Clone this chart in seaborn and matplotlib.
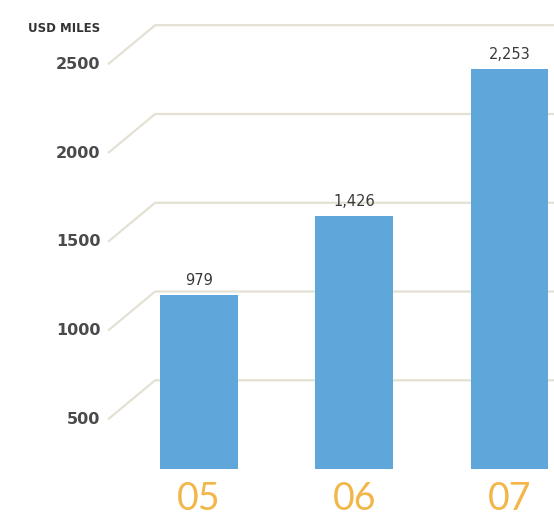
import matplotlib
matplotlib.use('Agg')
import matplotlib.pyplot as plt
import matplotlib.transforms as mtransforms
import seaborn as sns
import pandas as pd

# data
years = ["05", "06", "07"]
values = [979, 1426, 2253]
value_labels = ["979", "1,426", "2,253"]
ticks = [500, 1000, 1500, 2000, 2500]
unit_label = "USD MILES"

bar_color = "#5fa6db"
year_color = "#f2b649"
grid_color = "#e4e1d4"
text_color = "#3a3a3a"

sns.set_style("white")
plt.rcParams['font.family'] = ['DejaVu Sans']

df = pd.DataFrame({"year": years, "value": values})

fig = plt.figure(figsize=(5.54, 5.17), dpi=100)
ax = fig.add_axes([0, 0, 1, 1])

# back wall grid: diagonal from the label to the wall, then flat to the right
blend = mtransforms.blended_transform_factory(ax.transAxes, ax.transData)
depth = 220  # front labels sit this far below the wall line
for t in ticks:
    ax.plot([0.195, 0.28, 1.0], [t - depth, t, t], color=grid_color, lw=1.6,
            transform=blend, zorder=0, solid_capstyle='butt')
    ax.text(0.181, t - depth, str(t), transform=blend, ha='right', va='center',
            fontsize=11.5, fontweight='bold', color='#4a4a4a')

ax.text(0.181, 2642 - 28 / 0.1775, unit_label, transform=blend, ha='right',
        va='center', fontsize=8.5, fontweight='bold', color='#333333')

sns.barplot(data=df, x="year", y="value", color=bar_color, width=0.5,
            saturation=1, linewidth=0, ax=ax, zorder=2)

for i, (v, lab) in enumerate(zip(values, value_labels)):
    ax.annotate(lab, (i, v), xytext=(0, 5), textcoords='offset points',
                ha='center', va='bottom', fontsize=10.5, color=text_color)
    ax.text(i, -168, years[i], ha='center', va='center', fontsize=27,
            color=year_color, family=['Lato', 'DejaVu Sans'])

ax.set_xlim(-1.282, 2.287)
ax.set_ylim(-270, 2642)
ax.axis('off')

fig.savefig("out.png", dpi=100)
